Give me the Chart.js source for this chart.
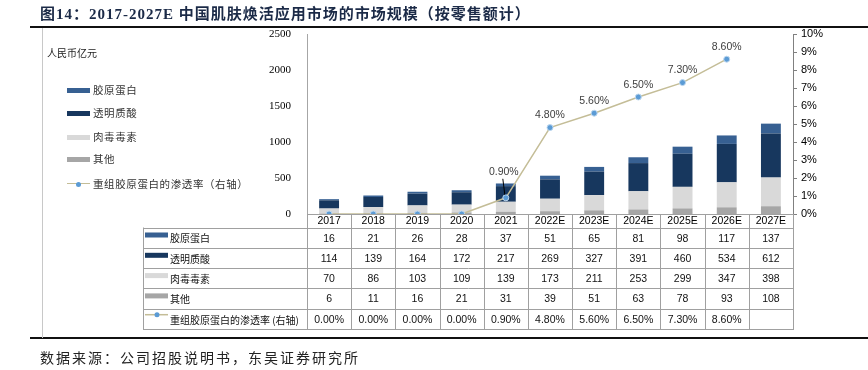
<!DOCTYPE html>
<html>
<head>
<meta charset="utf-8">
<script src="https://cdn.jsdelivr.net/npm/chart.js@4/dist/chart.umd.min.js"></script>
<style>
  body { margin: 0; background: #fff; }
  #wrap { position: relative; width: 868px; height: 370px; overflow: hidden; font-family: "Noto Sans CJK SC", sans-serif; }
  #c { position: absolute; left: 0; top: 0; }
  .abs { position: absolute; white-space: nowrap; }
  .title { left: 40px; top: 2px; font: bold 15px "Liberation Serif", "Noto Sans CJK SC"; color: #1b2a47; letter-spacing: 1px; }
  .rule { left: 30px; width: 838px; height: 2px; background: #111; }
  .vline { left: 42px; top: 28px; width: 1px; height: 310px; background: #c8c8c8; }
  .unit { left: 47px; top: 45px; font-size: 10px; color: #222; }
  .leg { left: 67px; font-size: 10.5px; color: #333; letter-spacing: 0.6px; line-height: 14px; }
  .sw { display: inline-block; width: 23px; height: 5px; vertical-align: middle; margin-right: 3px; position: relative; top: -1px; }
  .dot { position: absolute; left: 9px; top: -2px; width: 5px; height: 5px; border-radius: 50%; background: #5b9bd5; }
  .src { left: 40px; top: 347px; font-size: 14px; color: #222; letter-spacing: 2px; }
</style>
</head>
<body>
<div id="wrap">
  <canvas id="c" width="868" height="370"></canvas>
  <div class="abs title">图14：2017-2027E 中国肌肤焕活应用市场的市场规模（按零售额计）</div>
  <div class="abs rule" style="top:26px"></div>
  <div class="abs rule" style="top:337px"></div>
  <div class="abs vline"></div>
  <div class="abs unit">人民币亿元</div>
  <div class="abs leg" style="top:83px"><span class="sw" style="background:#376092"></span>胶原蛋白</div>
  <div class="abs leg" style="top:106px"><span class="sw" style="background:#17375e"></span>透明质酸</div>
  <div class="abs leg" style="top:130px"><span class="sw" style="background:#d9d9d9"></span>肉毒毒素</div>
  <div class="abs leg" style="top:152px"><span class="sw" style="background:#a6a6a6"></span>其他</div>
  <div class="abs leg" style="top:177px"><span class="sw" style="height:0;border-top:1.5px solid #c4bd97;top:-2px"><span class="dot"></span></span>重组胶原蛋白的渗透率（右轴）</div>
  <div class="abs src">数据来源：公司招股说明书，东吴证券研究所</div>
</div>
<script>
// 数据
const years = ['2017', '2018', '2019', '2020', '2021', '2022E', '2023E', '2024E', '2025E', '2026E', '2027E'];
const collagen = [16, 21, 26, 28, 37, 51, 65, 81, 98, 117, 137];
const hyaluronic = [114, 139, 164, 172, 217, 269, 327, 391, 460, 534, 612];
const botox = [70, 86, 103, 109, 139, 173, 211, 253, 299, 347, 398];
const others = [6, 11, 16, 21, 31, 39, 51, 63, 78, 93, 108];
const rate = [0, 0, 0, 0, 0.9, 4.8, 5.6, 6.5, 7.3, 8.6, null];
const leftMax = 2500, leftStep = 500;
const rightMax = 10, rightStep = 1;

const colors = { collagen: '#376092', hyaluronic: '#17375e', botox: '#d9d9d9', others: '#a6a6a6', line: '#c4bd97', dot: '#5b9bd5' };

// 表格行（从上到下）
const tableRows = [
  { name: '胶原蛋白', color: colors.collagen, values: collagen },
  { name: '透明质酸', color: colors.hyaluronic, values: hyaluronic },
  { name: '肉毒毒素', color: colors.botox, values: botox },
  { name: '其他', color: colors.others, values: others },
  { name: '重组胶原蛋白的渗透率 (右轴)', line: true, values: rate.map(v => v == null ? '' : v.toFixed(2) + '%') }
];

const tablePlugin = {
  id: 'dataTable',
  afterDraw(chart) {
    const { ctx, chartArea } = chart;
    const x = chart.scales.x;
    const n = years.length;
    const cw = (chartArea.right - chartArea.left) / n;
    const tLeft = 143, headTop = chartArea.bottom, rowTop = chartArea.bottom + 13.5, rh = 20.3;
    const bottom = rowTop + rh * tableRows.length;
    ctx.save();
    ctx.strokeStyle = '#a0a0a0';
    ctx.lineWidth = 1;
    ctx.beginPath();
    for (let i = 0; i <= n; i++) {
      const bx = Math.round(chartArea.left + cw * i) + 0.5;
      ctx.moveTo(bx, headTop); ctx.lineTo(bx, bottom);
    }
    ctx.moveTo(tLeft + 0.5, rowTop); ctx.lineTo(tLeft + 0.5, bottom);
    for (let r = 0; r <= tableRows.length; r++) {
      const y = Math.round(rowTop + rh * r) + 0.5;
      ctx.moveTo(tLeft, y); ctx.lineTo(chartArea.right + 1, y);
    }
    ctx.stroke();

    ctx.textBaseline = 'middle';
    tableRows.forEach((row, r) => {
      const top = rowTop + rh * r, cy = top + rh / 2 + 1;
      if (row.line) {
        ctx.strokeStyle = colors.line; ctx.lineWidth = 1.5;
        ctx.beginPath(); ctx.moveTo(145, top + 6); ctx.lineTo(168, top + 6); ctx.stroke();
        ctx.fillStyle = colors.dot; ctx.beginPath(); ctx.arc(157, top + 6, 2.5, 0, Math.PI * 2); ctx.fill();
      } else {
        ctx.fillStyle = row.color; ctx.fillRect(145, top + 5, 23, 5);
      }
      ctx.fillStyle = '#111';
      ctx.textAlign = 'left';
      ctx.font = '10px "Noto Sans CJK SC"';
      ctx.fillText(row.name, 170, cy);
      ctx.textAlign = 'center';
      ctx.font = '10.5px "Liberation Sans"';
      row.values.forEach((v, i) => ctx.fillText(String(v), x.getPixelForValue(i), cy));
    });

    // 渗透率标签
    const meta = chart.getDatasetMeta(4);
    ctx.font = '10.5px "Liberation Sans"';
    ctx.fillStyle = '#404040';
    ctx.textAlign = 'center';
    rate.forEach((v, i) => {
      if (v == null || v === 0) return;
      const p = meta.data[i];
      if (i === 4) {
        ctx.fillText(v.toFixed(2) + '%', p.x - 2, p.y - 26);
        ctx.strokeStyle = '#000'; ctx.lineWidth = 1;
        ctx.beginPath(); ctx.moveTo(p.x - 3, p.y - 19); ctx.lineTo(p.x - 1, p.y - 3); ctx.stroke();
      } else {
        ctx.fillText(v.toFixed(2) + '%', p.x, p.y - 12);
      }
    });
    ctx.restore();
  }
};

const barStyle = { borderWidth: 0, barPercentage: 0.45, categoryPercentage: 1, yAxisID: 'y', stack: 's', order: 1 };

new Chart(document.getElementById('c'), {
  data: {
    labels: years,
    datasets: [
      { type: 'bar', label: '其他', data: others, backgroundColor: colors.others, ...barStyle },
      { type: 'bar', label: '肉毒毒素', data: botox, backgroundColor: colors.botox, ...barStyle },
      { type: 'bar', label: '透明质酸', data: hyaluronic, backgroundColor: colors.hyaluronic, ...barStyle },
      { type: 'bar', label: '胶原蛋白', data: collagen, backgroundColor: colors.collagen, ...barStyle },
      { type: 'line', label: '重组胶原蛋白的渗透率（右轴）', data: rate, yAxisID: 'y1', order: 0,
        borderColor: colors.line, borderWidth: 1.5, pointRadius: 3, pointBackgroundColor: colors.dot,
        pointBorderColor: '#bdd7ee', pointBorderWidth: 1, tension: 0, spanGaps: false }
    ]
  },
  options: {
    responsive: false,
    animation: false,
    layout: { padding: { left: 247, right: 30, top: 34, bottom: 40 } },
    plugins: { legend: { display: false }, tooltip: { enabled: false } },
    scales: {
      x: {
        stacked: true,
        grid: { display: false, drawTicks: false },
        border: { display: true, color: '#a0a0a0' },
        ticks: { padding: 1, color: '#000', font: { family: 'Liberation Sans', size: 10.5 }, maxRotation: 0, autoSkip: false },
        afterFit(s) { s.height = 116; }
      },
      y: {
        stacked: true, position: 'left', min: 0, max: leftMax,
        ticks: { stepSize: leftStep, padding: 8, color: '#000', font: { family: 'Liberation Serif', size: 11 }, callback: v => String(v) },
        grid: { display: false },
        border: { display: true, color: '#a6a6a6' },
        afterFit(s) { s.width = 60; }
      },
      y1: {
        position: 'right', min: 0, max: rightMax,
        ticks: { stepSize: rightStep, padding: 4, color: '#000', font: { family: 'Liberation Sans', size: 11 }, callback: v => v + '%' },
        grid: { drawOnChartArea: false, drawTicks: true, tickLength: 4, color: '#808080' },
        border: { display: true, color: '#808080' },
        afterFit(s) { s.width = 45; }
      }
    }
  },
  plugins: [tablePlugin]
});
</script>
</body>
</html>
